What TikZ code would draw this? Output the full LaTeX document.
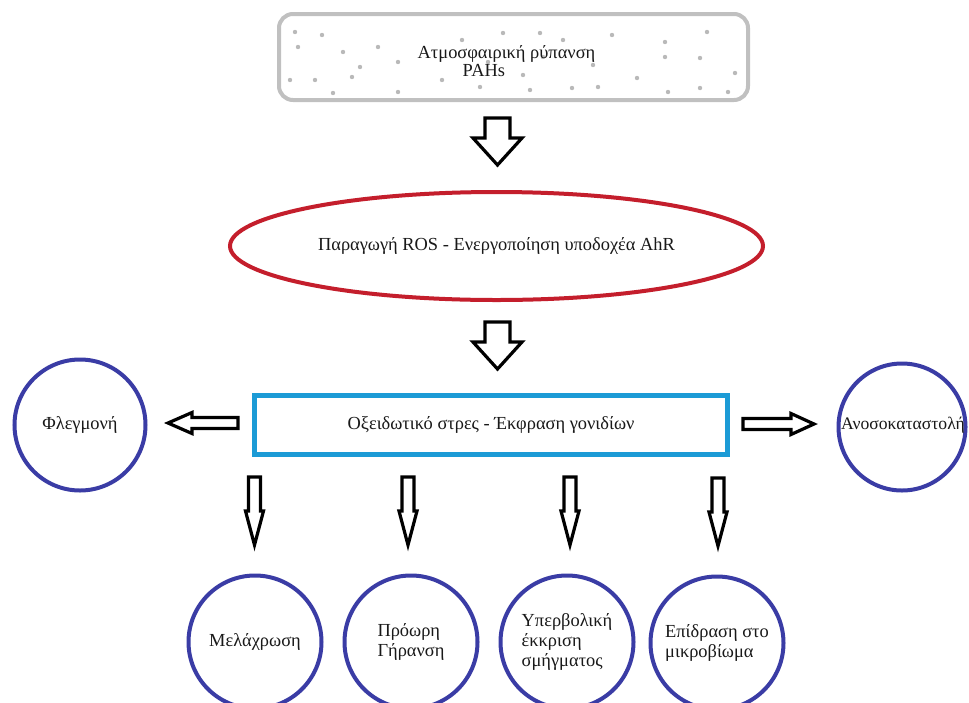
\documentclass[tikz,border=0pt]{standalone}
\usepackage{fontspec}
\setmainfont{Liberation Serif}
\usetikzlibrary{shapes.geometric}
\definecolor{boxgray}{RGB}{192,192,192}
\definecolor{dotgray}{RGB}{185,185,185}
\definecolor{ellred}{RGB}{196,30,44}
\definecolor{rectcyan}{RGB}{28,155,214}
\definecolor{circblue}{RGB}{58,60,165}
\definecolor{txtcol}{RGB}{25,25,25}
\newcommand{\vBlockArrow}[6]{%
  \draw[blockarr] (#1-#3,#2) -- (#1+#3,#2) -- (#1+#3,#5) -- (#1+#4,#5) -- (#1,#6)
    -- (#1-#4,#5) -- (#1-#3,#5) -- cycle;}
\begin{document}
\begin{tikzpicture}[x=1pt,y=-1pt,
  every node/.style={text=txtcol},
  maintxt/.style={font=\fontsize{18.4}{20}\selectfont},
  srcbox/.style={draw=boxgray,line width=4pt,rounded corners=14pt,minimum width=469pt,minimum height=86pt,inner sep=0pt},
  ellbox/.style={ellipse,draw=ellred,line width=4pt,minimum width=533pt,minimum height=108pt,inner sep=0pt,maintxt},
  rectbox/.style={draw=rectcyan,line width=5pt,minimum width=473pt,minimum height=59pt,inner sep=0pt,maintxt},
  effect/.style={circle,draw=circblue,line width=4pt,inner sep=0pt,align=left,maintxt},
  blockarr/.style={draw=black,line width=3.2pt,line join=miter,fill=white}]
\useasboundingbox (0,0) rectangle (969,702);
\clip (0,0) rectangle (969,702);
\fill[white] (0,0) rectangle (969,702);

% source box with speckles
\node[srcbox] (src) at (513.5,57) {};
\foreach \px/\py in {295/32,322/35,298/47,343/52,378/47,360/67,352/77,398/62,290/80,315/80,333/93,398/92,442/80,462/40,503/33,540/33,563/40,612/35,665/42,707/32,665/57,700/58,543/57,488/62,593/65,523/75,637/78,735/73,480/87,530/90,572/88,598/87,668/92,700/88,728/92}
  \fill[dotgray] (\px,\py) circle (2.2pt);
\node[maintxt,align=left,inner sep=0pt,font=\fontsize{18.4}{18}\selectfont] (srctext) at (506.5,61) {Ατμοσφαιρική ρύπανση\\\hspace*{45pt}PAHs};

% ellipse
\node[ellbox] (ros) at (496.5,246) {Παραγωγή ROS - Ενεργοποίηση υποδοχέα AhR};

% rectangle
\node[rectbox] (ox) at (491,425) {Οξειδωτικό στρες - Έκφραση γονιδίων};

% side circles
\node[effect,minimum size=131pt] (fleg) at (80,425) {Φλεγμονή};
\node[effect,minimum size=127pt] (anos) at (902,427) {};
\node[anchor=west,inner sep=0pt,font=\fontsize{17.6}{20}\selectfont] (anostext) at (841,425) {Ανοσοκαταστολή};

% bottom circles
\node[effect,minimum size=133pt] (mel) at (255,642) {Μελάχρωση};
\node[effect,minimum size=133pt] (gir) at (411,642) {Πρόωρη\\Γήρανση};
\node[effect,minimum size=133pt] (smi) at (567,642) {Υπερβολική\\έκκριση\\σμήγματος};
\node[effect,minimum size=133pt] (mik) at (717,643) {Επίδραση στο\\μικροβίωμα};

% big down arrows
\vBlockArrow{497.5}{118}{12.5}{24.5}{138}{165}
\vBlockArrow{497.5}{322}{12.5}{24.5}{342}{369}

% side arrows
\draw[blockarr] (238,417.5) -- (192,417.5) -- (192,412.5) -- (168,423) -- (192,433.5) -- (192,428.5) -- (238,428.5) -- cycle;
\draw[blockarr] (743,418.5) -- (791,418.5) -- (791,413.5) -- (814,424) -- (791,434.5) -- (791,429.5) -- (743,429.5) -- cycle;

% small down arrows
\vBlockArrow{254.5}{477}{6}{9}{511}{545}
\vBlockArrow{408}{477}{6}{9}{511}{545}
\vBlockArrow{570}{477}{6}{9}{511}{545}
\vBlockArrow{718}{478}{6}{9}{512}{546}
\end{tikzpicture}
\end{document}
